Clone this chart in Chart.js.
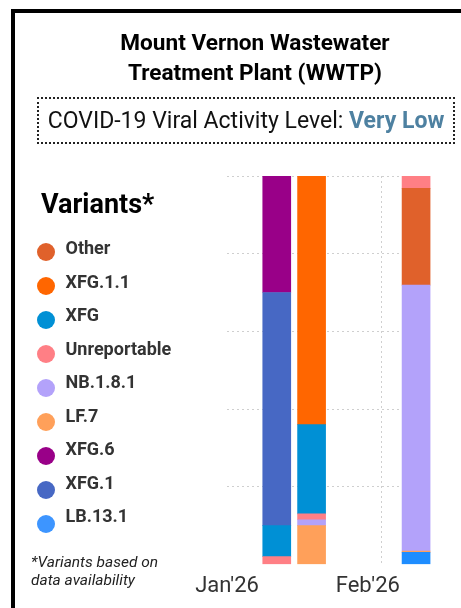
<!DOCTYPE html>
<html lang="en">

<head>
    <meta charset="UTF-8">
    <title>Mount Vernon WWTP Variants</title>
    <script src="https://cdn.jsdelivr.net/npm/chart.js"></script>
    <style>
        body { margin: 0; width: 461px; height: 608px; overflow: hidden; background: #fff; font-family: Roboto, sans-serif; position: relative; }
        #chart { position: absolute; left: 0; top: 0; }
        .overlay { position: absolute; pointer-events: none; }
        #frame { left: 11px; top: 9px; width: 600px; height: 700px; border-top: 4px solid #000; border-left: 4px solid #000; }
        #title { left: 0; top: 27.5px; width: 510px; text-align: center; font-weight: 700; font-size: 22.6px; line-height: 30px; color: #000; }
        #level { left: 37px; top: 97px; width: 418px; height: 47px; box-sizing: border-box; border: 2px dotted #222; display: flex; align-items: center; justify-content: center; font-size: 23px; color: #111; white-space: nowrap; }
        #level b { color: #4e81a1; }
        #legendTitle { left: 41px; top: 187.5px; font-weight: 700; font-size: 27px; line-height: 32px; color: #000; }
        .dot { position: absolute; width: 18px; height: 18px; border-radius: 50%; }
        .lab { position: absolute; font-weight: 700; font-size: 18px; line-height: 22px; color: #333; white-space: nowrap; }
        #note { left: 31px; top: 552.5px; font-style: italic; font-size: 15.5px; line-height: 18.5px; color: #222; }
    </style>
</head>

<body>
    <canvas id="chart" width="461" height="608"></canvas>
    <div id="frame" class="overlay"></div>
    <div id="title" class="overlay">Mount Vernon Wastewater<br>Treatment Plant (WWTP)</div>
    <div id="level" class="overlay">COVID-19 Viral Activity Level:&nbsp;<b>Very Low</b></div>
    <div id="legendTitle" class="overlay">Variants*</div>
    <div id="legend" class="overlay" style="left:0;top:0;"></div>
    <div id="note" class="overlay">*Variants based on<br>data availability</div>

    <script>
        // sample weeks, as day of year 2026 (Jan 11, Jan 18, Feb 8)
        const weekDays = [11, 18, 39];

        // x axis ticks (day of year) and their labels
        const tickDays = [1, 29.3, 32];
        const tickLabels = ["Jan'26", "Feb'26", ""];

        // share of each variant (%) per week
        const lb131 = [null, null, 3.1];
        const lf7 = [null, 10, 0.3];
        const nb181 = [null, 1.5, 68.5];
        const other = [null, null, 24.9];
        const unreportable = [2, 1.5, 3.2];
        const xfg = [8, 23, null];
        const xfg1 = [60, null, null];
        const xfg6 = [30, null, null];
        const xfg11 = [null, 64, null];

        // stacking order, bottom to top
        const stackOrder = [
            ['LB.13.1', lb131, '#1e8dff'],
            ['LF.7', lf7, '#ffa05a'],
            ['NB.1.8.1', nb181, '#b3a2fa'],
            ['Other', other, '#e0612b'],
            ['Unreportable', unreportable, '#ff7f85'],
            ['XFG', xfg, '#0090d5'],
            ['XFG.1', xfg1, '#4768c4'],
            ['XFG.6', xfg6, '#990088'],
            ['XFG.1.1', xfg11, '#ff6600']
        ];

        // order shown in the legend
        const legendOrder = ['Other', 'XFG.1.1', 'XFG', 'Unreportable', 'NB.1.8.1', 'LF.7', 'XFG.6', 'XFG.1', 'LB.13.1'];

        const datasets = stackOrder.map(([name, values, color]) => ({
            label: name,
            data: values,
            backgroundColor: color,
            borderWidth: 0,
            barThickness: 28
        }));

        // legend built from the same datasets
        const legendEl = document.getElementById('legend');
        legendOrder.forEach((name, i) => {
            const ds = datasets.find(d => d.label === name);
            const textY = 248 + i * 33.5;
            const dotY = 251.5 + i * 34;
            const dot = document.createElement('div');
            dot.className = 'dot';
            dot.style.left = '37px';
            dot.style.top = (dotY - 9) + 'px';
            dot.style.background = name === 'LB.13.1' ? '#3d95ff' : ds.backgroundColor;
            const lab = document.createElement('div');
            lab.className = 'lab';
            lab.style.left = '65.5px';
            lab.style.top = (textY - 10.7) + 'px';
            lab.textContent = name;
            legendEl.appendChild(dot);
            legendEl.appendChild(lab);
        });

        new Chart(document.getElementById('chart'), {
            type: 'bar',
            data: {
                labels: weekDays,
                datasets: datasets
            },
            options: {
                responsive: false,
                animation: false,
                devicePixelRatio: 1,
                layout: {
                    padding: { left: 227, top: 176, right: 30, bottom: 0 }
                },
                plugins: {
                    legend: { display: false },
                    tooltip: { enabled: false }
                },
                scales: {
                    x: {
                        type: 'linear',
                        stacked: true,
                        offset: false,
                        min: 1,
                        max: 42,
                        afterBuildTicks: (scale) => {
                            scale.ticks = tickDays.map(v => ({ value: v }));
                        },
                        ticks: {
                            autoSkip: false,
                            maxRotation: 0,
                            padding: 8.6,
                            color: '#333',
                            font: { family: 'Roboto', size: 22 },
                            callback: (value, index) => tickLabels[index]
                        },
                        grid: {
                            offset: false,
                            drawTicks: false,
                            lineWidth: 1,
                            color: (ctx) => (ctx.tick && ctx.tick.value === 32) ? '#cfcfcf' : 'rgba(0,0,0,0)'
                        },
                        border: { display: false, dash: [2, 3] }
                    },
                    y: {
                        stacked: true,
                        min: 0,
                        max: 100,
                        ticks: { display: false, stepSize: 20 },
                        grid: {
                            drawTicks: false,
                            lineWidth: 1,
                            color: (ctx) => (ctx.tick && ctx.tick.value === 0) ? 'rgba(0,0,0,0)' : '#cfcfcf'
                        },
                        border: { display: false, dash: [2, 3] }
                    }
                }
            }
        });
    </script>
</body>

</html>
